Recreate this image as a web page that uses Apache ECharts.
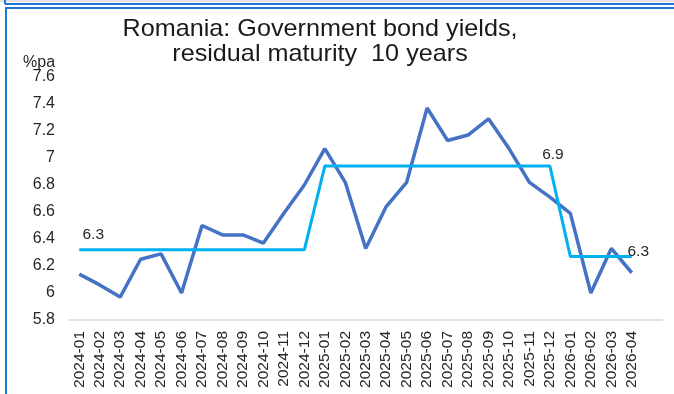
<!DOCTYPE html>
<html>
<head>
<meta charset="utf-8">
<script src="https://cdn.jsdelivr.net/npm/echarts@6/dist/echarts.min.js"></script>
<style>
  html, body { margin: 0; padding: 0; background: #ffffff; }
  #chart { width: 674px; height: 394px; }
</style>
</head>
<body>
<div id="chart"></div>
<script>
// Monthly categories
const months = [
  '2024-01', '2024-02', '2024-03', '2024-04', '2024-05', '2024-06',
  '2024-07', '2024-08', '2024-09', '2024-10', '2024-11', '2024-12',
  '2025-01', '2025-02', '2025-03', '2025-04', '2025-05', '2025-06',
  '2025-07', '2025-08', '2025-09', '2025-10', '2025-11', '2025-12',
  '2026-01', '2026-02', '2026-03', '2026-04'
];

// 10-year government bond yield, %pa
const yields = [
  6.14, 6.06, 5.97, 6.25, 6.29, 6.00,
  6.50, 6.43, 6.43, 6.37, 6.59, 6.80,
  7.07, 6.82, 6.33, 6.64, 6.82, 7.37,
  7.13, 7.17, 7.29, 7.07, 6.82, 6.71,
  6.59, 6.00, 6.33, 6.15
];

// Annual average yield, repeated over each month of the year
const annualAverage = [
  6.32, 6.32, 6.32, 6.32, 6.32, 6.32,
  6.32, 6.32, 6.32, 6.32, 6.32, 6.32,
  6.94, 6.94, 6.94, 6.94, 6.94, 6.94,
  6.94, 6.94, 6.94, 6.94, 6.94, 6.94,
  6.27, 6.27, 6.27, 6.27
];

// Value-axis ticks
const yTicks = { min: 5.8, max: 7.6, step: 0.2 };

const TEXT = '#262626';
const FONT = '"Liberation Sans", Arial, sans-serif';

// Averages are labelled at the start, at the end of 2025 and at the last month
const labelOffsets = { 0: [14, -2], 23: [3, 1.5], 27: [6.5, 8.5] };

const averageData = annualAverage.map((v, i) => {
  const item = { value: v };
  if (labelOffsets[i]) {
    item.label = {
      show: true,
      position: 'top',
      distance: 5,
      offset: labelOffsets[i],
      formatter: p => p.value.toFixed(1),
      color: TEXT,
      fontFamily: FONT,
      fontSize: 15.5
    };
  }
  return item;
});

const chart = echarts.init(document.getElementById('chart'));

chart.setOption({
  backgroundColor: '#ffffff',
  animation: false,
  grid: { left: 69, right: 32, top: 77, bottom: 74 },
  xAxis: {
    type: 'category',
    data: months,
    boundaryGap: true,
    axisLine: { show: true, lineStyle: { color: '#d9d9d9', width: 1.5 } },
    axisTick: { show: false },
    axisLabel: {
      rotate: 90,
      interval: 0,
      margin: 11,
      color: TEXT,
      fontFamily: FONT,
      fontSize: 15.5
    },
    splitLine: { show: false }
  },
  yAxis: {
    type: 'value',
    min: yTicks.min,
    max: yTicks.max,
    interval: yTicks.step,
    axisLine: { show: false },
    axisTick: { show: false },
    splitLine: { show: false },
    axisLabel: {
      margin: 14,
      padding: [4, 0, 0, 0],
      color: TEXT,
      fontFamily: FONT,
      fontSize: 16,
      formatter: v => String(Math.round(v * 10) / 10)
    }
  },
  series: [
    {
      name: 'Yield',
      type: 'line',
      data: yields,
      showSymbol: false,
      symbol: 'none',
      lineStyle: { color: '#4472c4', width: 3.5 },
      z: 2
    },
    {
      name: 'Annual average',
      type: 'line',
      data: averageData,
      symbol: 'circle',
      symbolSize: 0,
      showSymbol: true,
      itemStyle: { color: '#00b0f0' },
      lineStyle: { color: '#00b0f0', width: 3 },
      z: 3
    }
  ],
  graphic: [
    // frame edges
    { type: 'line', shape: { x1: 0, y1: 1, x2: 674, y2: 1 }, style: { stroke: '#c8c8c8', lineWidth: 1 } },
    { type: 'line', shape: { x1: 5, y1: 4, x2: 674, y2: 4 }, style: { stroke: '#1f78d6', lineWidth: 2 } },
    { type: 'line', shape: { x1: 5, y1: 0, x2: 5, y2: 4 }, style: { stroke: '#1f78d6', lineWidth: 2 } },
    { type: 'line', shape: { x1: 5, y1: 8, x2: 674, y2: 8 }, style: { stroke: '#1f78d6', lineWidth: 2 } },
    { type: 'line', shape: { x1: 6, y1: 7, x2: 6, y2: 394 }, style: { stroke: '#1f78d6', lineWidth: 2 } },
    // category axis runs on past the last month
    { type: 'line', shape: { x1: 642, y1: 320, x2: 663, y2: 320 }, style: { stroke: '#d9d9d9', lineWidth: 1.5 } },
    // title
    {
      type: 'text',
      x: 320,
      y: 17,
      scaleX: 1.05,
      originX: 0,
      style: {
        text: 'Romania: Government bond yields,\nresidual maturity  10 years',
        font: '24px ' + FONT,
        fill: '#1a1a1a',
        textAlign: 'center',
        textVerticalAlign: 'top',
        lineHeight: 25
      }
    },
    // unit
    {
      type: 'text',
      x: 23,
      y: 63,
      style: {
        text: '%pa',
        font: '16px ' + FONT,
        fill: TEXT,
        textAlign: 'left',
        textVerticalAlign: 'middle'
      }
    }
  ]
});
</script>
</body>
</html>
